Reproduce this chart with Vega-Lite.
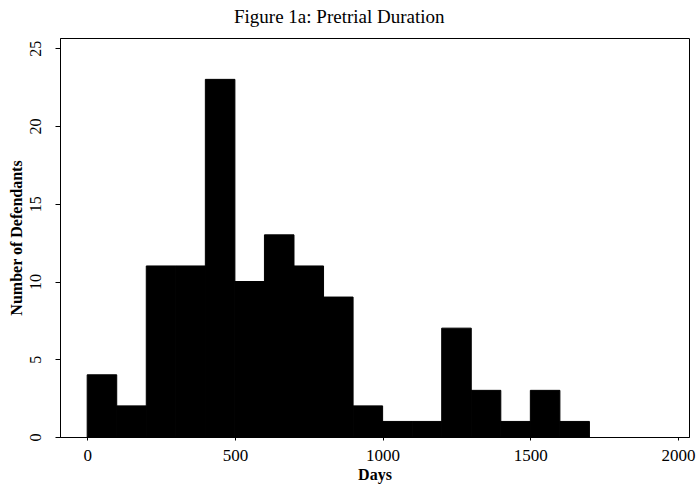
{
  "$schema": "https://vega.github.io/schema/vega-lite/v6.json",
  "autosize": "none",
  "width": 629,
  "height": 399,
  "padding": {"left": 60, "top": 38, "right": 9, "bottom": 48},
  "background": "white",
  "title": {
    "text": "Figure 1a: Pretrial Duration",
    "font": "Liberation Serif",
    "fontSize": 19,
    "fontWeight": "normal",
    "color": "black",
    "anchor": "start",
    "dx": 226,
    "offset": 11
  },
  "data": {
    "values": [
      {"start": 0, "end": 100, "count": 4},
      {"start": 100, "end": 200, "count": 2},
      {"start": 200, "end": 300, "count": 11},
      {"start": 300, "end": 400, "count": 11},
      {"start": 400, "end": 500, "count": 23},
      {"start": 500, "end": 600, "count": 10},
      {"start": 600, "end": 700, "count": 13},
      {"start": 700, "end": 800, "count": 11},
      {"start": 800, "end": 900, "count": 9},
      {"start": 900, "end": 1000, "count": 2},
      {"start": 1000, "end": 1100, "count": 1},
      {"start": 1100, "end": 1200, "count": 1},
      {"start": 1200, "end": 1300, "count": 7},
      {"start": 1300, "end": 1400, "count": 3},
      {"start": 1400, "end": 1500, "count": 1},
      {"start": 1500, "end": 1600, "count": 3},
      {"start": 1600, "end": 1700, "count": 1}
    ]
  },
  "mark": {"type": "rect", "color": "black", "stroke": "black", "strokeWidth": 1},
  "encoding": {
    "x": {
      "field": "start",
      "type": "quantitative",
      "scale": {"domain": [-92, 2037], "nice": false, "zero": false},
      "axis": {
        "title": "Days",
        "values": [0, 500, 1000, 1500, 2000],
        "format": "d",
        "grid": false,
        "tickSize": 3,
        "tickColor": "black",
        "domainColor": "black",
        "labelFont": "Liberation Serif",
        "labelFontSize": 17,
        "labelColor": "black",
        "labelPadding": 7,
        "titleFont": "Liberation Serif",
        "titleFontSize": 16,
        "titleFontWeight": "bold",
        "titleColor": "black",
        "titlePadding": 3
      }
    },
    "x2": {"field": "end"},
    "y": {
      "field": "count",
      "type": "quantitative",
      "scale": {"domain": [0, 25.66], "nice": false},
      "axis": {
        "title": "Number of Defendants",
        "values": [0, 5, 10, 15, 20, 25],
        "grid": false,
        "tickSize": 5,
        "tickColor": "black",
        "domainColor": "black",
        "labelAngle": -90,
        "labelAlign": "center",
        "labelBaseline": "bottom",
        "labelFont": "Liberation Serif",
        "labelFontSize": 16,
        "labelColor": "black",
        "labelPadding": 12,
        "titleFont": "Liberation Serif",
        "titleFontSize": 16,
        "titleFontWeight": "bold",
        "titleColor": "black",
        "titlePadding": 3
      }
    },
    "y2": {"datum": 0}
  },
  "config": {
    "view": {"stroke": "black", "strokeWidth": 1}
  }
}
